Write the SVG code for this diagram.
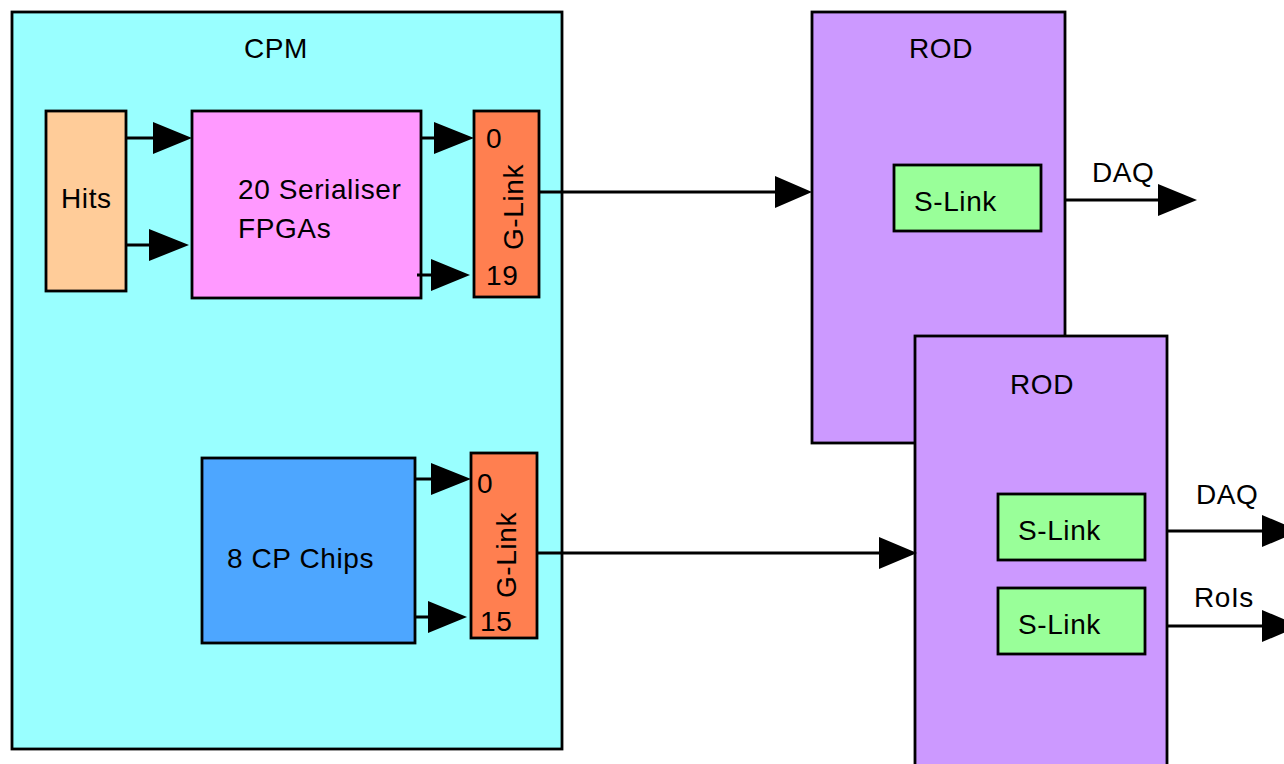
<svg xmlns="http://www.w3.org/2000/svg" width="1284" height="764" viewBox="0 0 1284 764">
<style>
rect{stroke:#000;stroke-width:2.8}
text{font-family:"Liberation Sans",Arial,sans-serif;font-size:28px;fill:#000;letter-spacing:0.6px}
.c{stroke:#000;stroke-width:2.8;fill:none}
.h{fill:#000;stroke:none}
</style>
<rect x="0" y="0" width="1284" height="764" fill="#fff" style="stroke:none"/>
<g id="cpm"><rect x="12" y="12" width="550" height="737" fill="#99ffff"/><text x="244" y="58">CPM</text></g>
<g id="hits"><rect x="46" y="111" width="80" height="180" fill="#ffcc99"/><text x="61" y="208">Hits</text></g>
<g id="serialiser"><rect x="192" y="111" width="229" height="187" fill="#ff99ff"/><text x="238" y="199">20 Serialiser</text><text x="238" y="238">FPGAs</text></g>
<g id="glink1"><rect x="474" y="111" width="65" height="186" fill="#ff7f50"/><text x="486" y="148">0</text><text x="486" y="285">19</text><text transform="translate(523,207) rotate(-90)" text-anchor="middle">G-Link</text></g>
<g id="cpchips"><rect x="202" y="458" width="213" height="185" fill="#4da6ff"/><text x="227" y="568">8 CP Chips</text></g>
<g id="glink2"><rect x="471" y="453" width="66" height="185" fill="#ff7f50"/><text x="477" y="493">0</text><text x="480" y="631">15</text><text transform="translate(516,555) rotate(-90)" text-anchor="middle">G-Link</text></g>
<g id="rod1"><rect x="812" y="12" width="253" height="431" fill="#cc99ff"/><text x="909" y="58">ROD</text></g>
<g id="slink1"><rect x="894" y="165" width="147" height="66" fill="#99ff99"/><text x="914" y="211">S-Link</text></g>
<g id="rod2"><rect x="915" y="336" width="252" height="440" fill="#cc99ff"/><text x="1010" y="394">ROD</text></g>
<g id="slink2"><rect x="998" y="494" width="147" height="66" fill="#99ff99"/><text x="1018" y="540">S-Link</text></g>
<g id="slink3"><rect x="998" y="588" width="147" height="66" fill="#99ff99"/><text x="1018" y="634">S-Link</text></g>
<g id="connectors">
<path class="c" d="M126 138H160M126 245H155M421 138H440M417 275H437M539 192H780M1065 200H1165M415 479H437M415 617H434M537 553H885M1167 531H1270M1167 626H1270"/>
<path class="h" d="M153 122L192 138L153 154Z M149 229L189 245L149 261Z M434 122L474 138L434 154Z M431 259L470 275L431 291Z M775 176L812 192L775 208Z M1158 184L1197 200L1158 216Z M431 463L471 479L431 495Z M428 601L467 617L428 633Z M879 537L917 553L879 569Z M1262 515L1300 531L1262 547Z M1262 610L1300 626L1262 642Z"/>
<text x="1092" y="182">DAQ</text>
<text x="1196" y="504">DAQ</text>
<text x="1194" y="607">RoIs</text>
</g>
</svg>
